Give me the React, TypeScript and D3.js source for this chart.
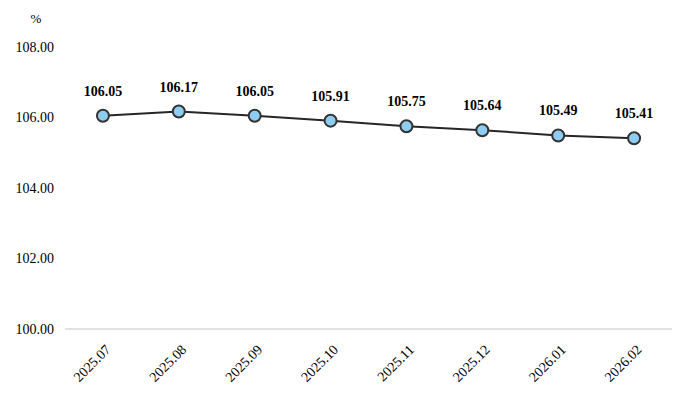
import React from 'react';
import * as d3 from 'd3';

const months = ['2025.07', '2025.08', '2025.09', '2025.10', '2025.11', '2025.12', '2026.01', '2026.02'];
const values = [106.05, 106.17, 106.05, 105.91, 105.75, 105.64, 105.49, 105.41];
const yTicks = [100, 102, 104, 106, 108];

const W = 689;
const H = 399;
const margin = {top: 47, right: 17, bottom: 70, left: 65};
const font = "'Liberation Serif', 'Times New Roman', serif";

const App = () => {
  const width = W - margin.left - margin.right;
  const height = H - margin.top - margin.bottom;

  const x = d3.scaleBand<string>()
    .domain(months)
    .range([0, width]);

  const y = d3.scaleLinear()
    .domain([100, 108])
    .range([height, 0]);

  const cx = (m: string) => (x(m) ?? 0) + x.bandwidth() / 2;

  const line = d3.line<number>()
    .x((d, i) => cx(months[i]))
    .y(d => y(d));

  return (
    <svg width={W} height={H} style={{display: 'block', position: 'absolute', left: 0, top: 0, fontFamily: font}}>
      <g transform={`translate(${margin.left}, ${margin.top})`}>
        <text x={-29} y={-24} fontSize={13} textAnchor="middle" fill="#000">%</text>
        {yTicks.map(t => (
          <text key={t} x={-11} y={y(t)} dy="0.35em" fontSize={14} textAnchor="end" fill="#000">
            {t.toFixed(2)}
          </text>
        ))}
        <line x1={0} x2={width} y1={height} y2={height} stroke="#d9d9d9" strokeWidth={1.5} />
        {months.map(m => (
          <text
            key={m}
            transform={`translate(${cx(m) + 5}, ${height + 18}) rotate(-45)`}
            fontSize={14}
            textAnchor="end"
            dy="0.35em"
            fill="#000"
          >
            {m}
          </text>
        ))}
        <path d={line(values) ?? ''} fill="none" stroke="#262626" strokeWidth={2} />
        {values.map((v, i) => (
          <g key={months[i]}>
            <circle cx={cx(months[i])} cy={y(v)} r={6} fill="#8ecdf0" stroke="#333" strokeWidth={2} />
            <text x={cx(months[i])} y={y(v) - 20} fontSize={14} fontWeight="bold" textAnchor="middle" fill="#000">
              {v.toFixed(2)}
            </text>
          </g>
        ))}
      </g>
    </svg>
  );
};

export default App;
